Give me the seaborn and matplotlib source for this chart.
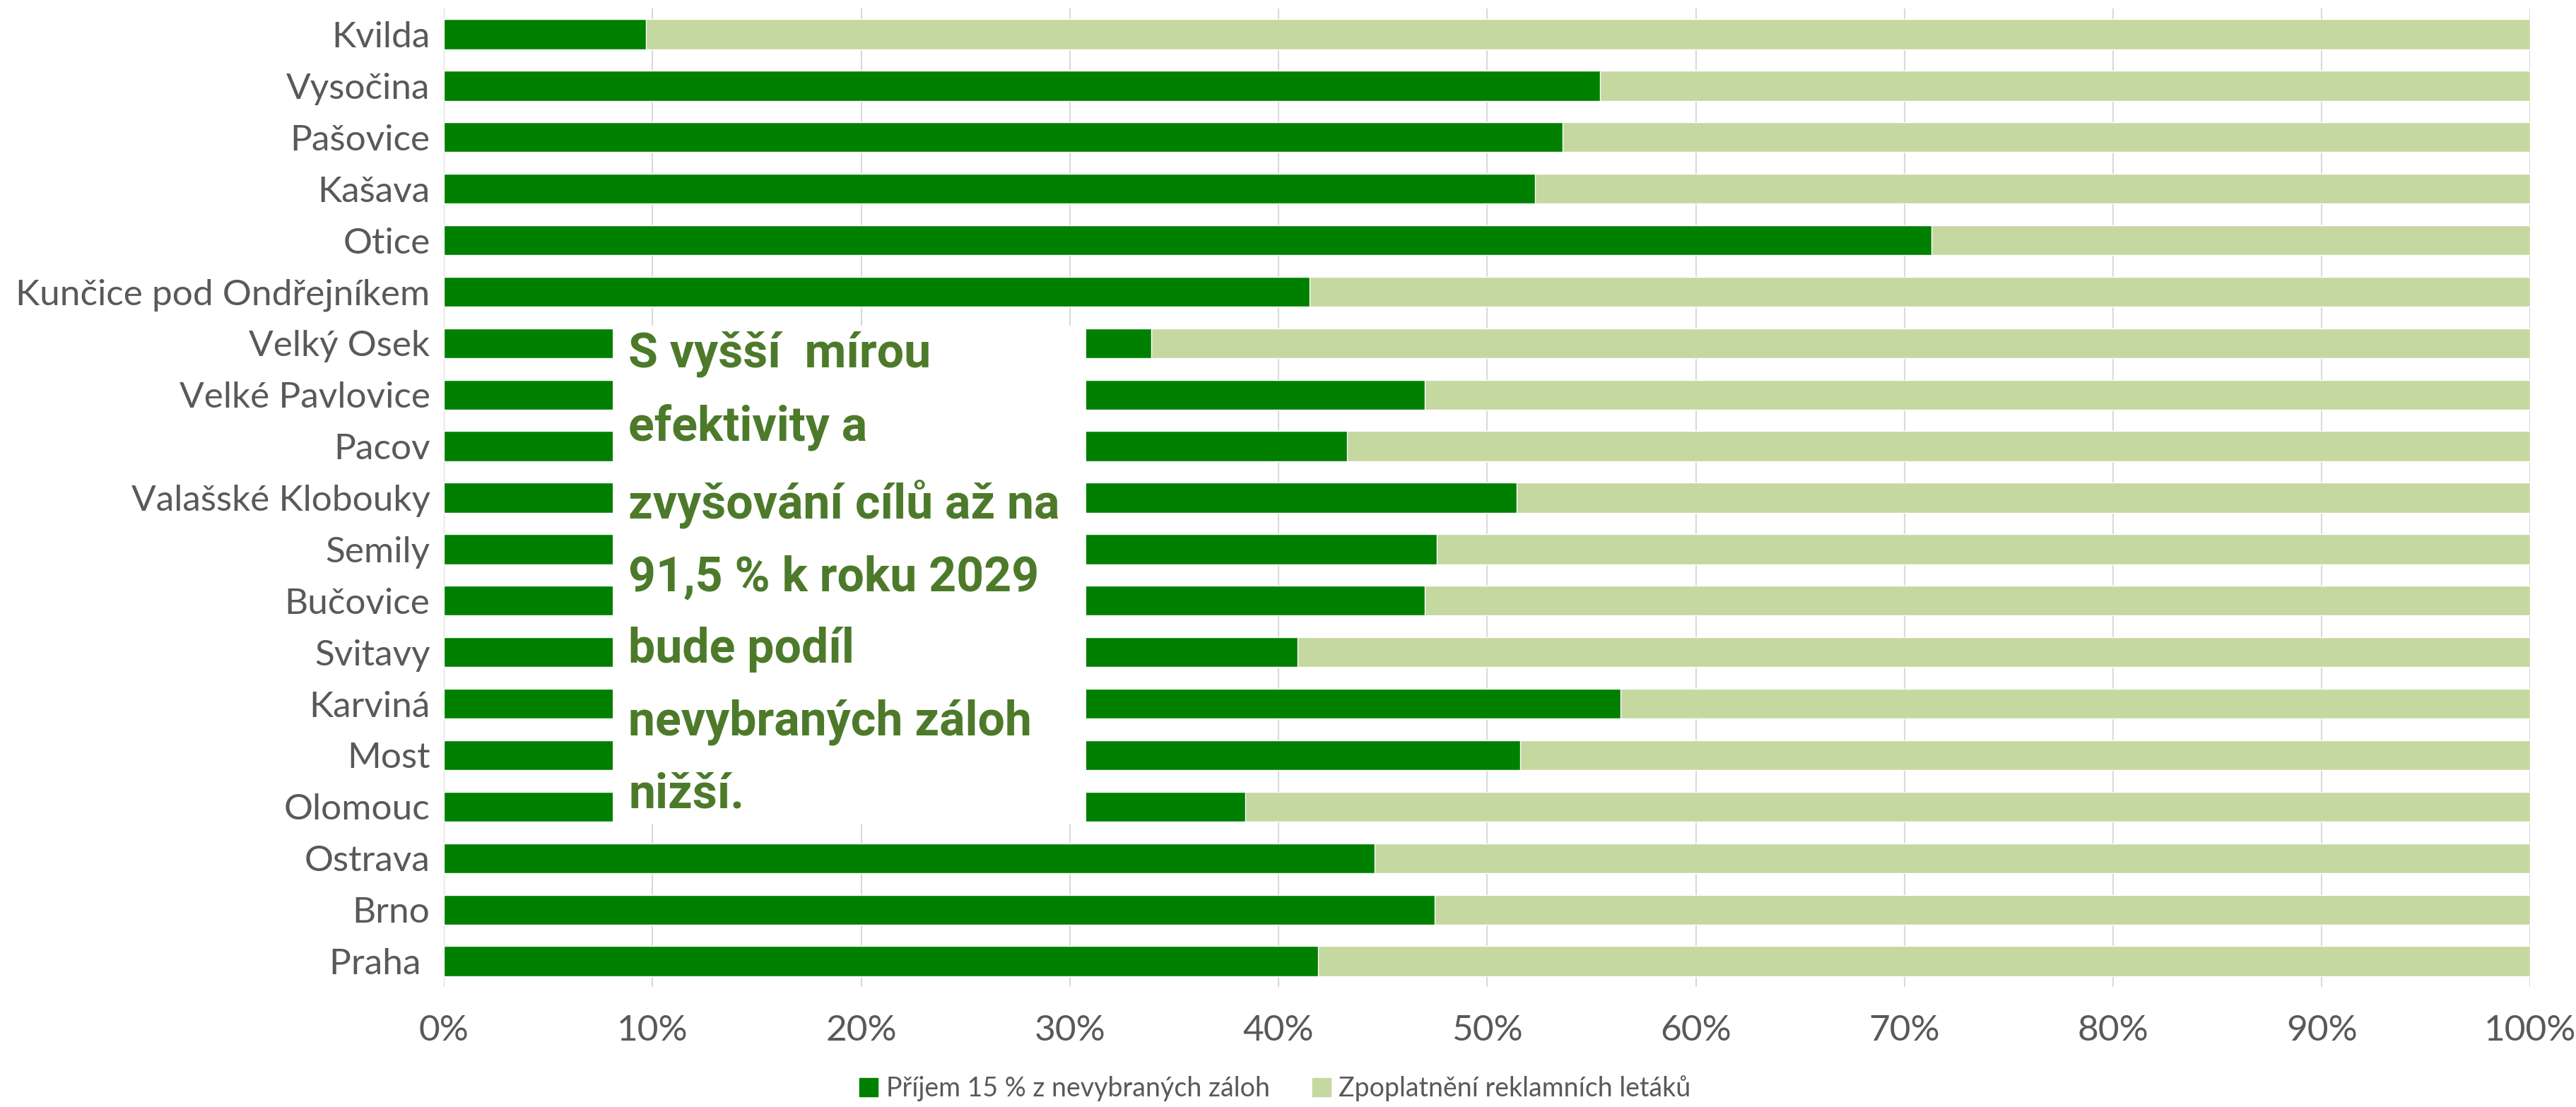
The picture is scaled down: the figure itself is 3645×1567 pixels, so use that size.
import matplotlib
matplotlib.use("Agg")
import matplotlib.pyplot as plt
from matplotlib.patches import Patch, Rectangle
from matplotlib.ticker import FuncFormatter
import pandas as pd
import seaborn as sns

# data (share in %)
cities = ["Kvilda", "Vysočina", "Pašovice", "Kašava", "Otice",
          "Kunčice pod Ondřejníkem", "Velký Osek", "Velké Pavlovice", "Pacov",
          "Valašské Klobouky", "Semily", "Bučovice", "Svitavy", "Karviná",
          "Most", "Olomouc", "Ostrava", "Brno", "Praha "]
prijem = [9.7, 55.4, 53.6, 52.3, 71.3, 41.5, 33.9, 47.0, 43.3, 51.4,
          47.6, 47.0, 40.9, 56.4, 51.6, 38.4, 44.6, 47.5, 41.9]
letaky = [100 - v for v in prijem]
x_ticks = [0, 10, 20, 30, 40, 50, 60, 70, 80, 90, 100]

LABEL_PRIJEM = "Příjem 15 % z nevybraných záloh"
LABEL_LETAKY = "Zpoplatnění reklamních letáků"
NOTE = ("S vyšší  mírou\nefektivity a\nzvyšování cílů až na\n91,5 % k roku 2029\n"
        "bude podíl\nnevybraných záloh\nnižší.")

DARK = "#008000"
LIGHT = "#C5D8A0"
GREY = "#595959"
NOTE_GREEN = "#4C7A2A"

df = pd.DataFrame({"city": cities, "prijem": prijem, "letaky": letaky})
df["total"] = df["prijem"] + df["letaky"]

sns.set_theme(style="white")
plt.rcParams["font.family"] = ["Lato", "DejaVu Sans"]

fig = plt.figure(figsize=(36.45, 15.67), dpi=100)
ax = fig.add_axes([0.1723, 0.1085, 0.81, 0.8838])

# stacked: full bar in light green, dark part drawn over it
sns.barplot(data=df, x="total", y="city", color=LIGHT, saturation=1,
            width=0.58, orient="h", ax=ax, zorder=2)
sns.barplot(data=df, x="prijem", y="city", color=DARK, saturation=1,
            width=0.58, orient="h", ax=ax, zorder=3)

ax.set_xlim(0, 100)
ax.set_ylim(len(cities) - 0.5, -0.5)
ax.set_xticks(x_ticks)
ax.xaxis.set_major_formatter(FuncFormatter(lambda v, p: f"{v:.0f}%"))
ax.grid(axis="x", color="#D9D9D9", linewidth=1.5, zorder=0)
ax.set_axisbelow(True)
for s in ax.spines.values():
    s.set_visible(False)
ax.set_xlabel("")
ax.set_ylabel("")
ax.tick_params(axis="both", length=0, labelsize=37, colors=GREY)
ax.tick_params(axis="x", pad=28)
ax.tick_params(axis="y", pad=14)

# white note box covering the middle bars
ax.add_patch(Rectangle((8.1, 5.66), 22.7, 9.68, facecolor="white",
                       edgecolor="none", zorder=5))
ax.text(8.85, 5.76, NOTE, ha="left", va="top", fontsize=49, fontweight="bold",
        color=NOTE_GREEN, linespacing=1.73, zorder=6,
        family=["Roboto", "DejaVu Sans"])

handles = [Patch(color=DARK, label=LABEL_PRIJEM),
           Patch(color=LIGHT, label=LABEL_LETAKY)]
fig.legend(handles=handles, loc="center", bbox_to_anchor=(0.495, 0.017),
           ncol=2, frameon=False, fontsize=27, labelcolor=GREY,
           handlelength=0.7, handleheight=0.7, handletextpad=0.3,
           columnspacing=1.6)

fig.savefig("out.png", dpi=100)
